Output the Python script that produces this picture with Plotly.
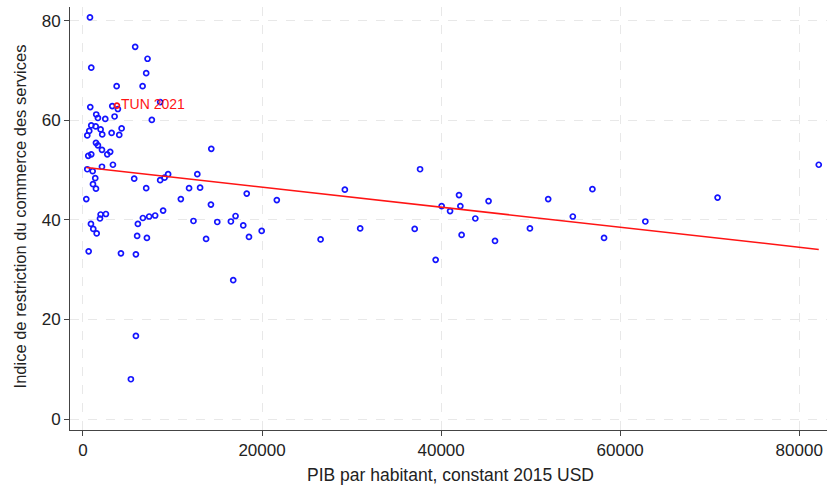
import numpy as np
import plotly.graph_objects as go

# PIB par habitant (constant 2015 USD) and services trade restrictiveness index
gdp = [780, 925, 5830, 7210, 7060, 6660, 3760, 815, 3270, 3900,
       8620, 1480, 1670, 2490, 3530, 7690, 925, 1420, 700, 1970,
       480, 2150, 3200, 4315, 4050, 1450, 1670, 2120, 2710, 3040,
       590, 925, 3345, 2120, 480, 1080, 9510, 9110, 8620, 5720,
       1370, 1115, 1450, 7060, 370, 10930, 11850, 13080, 12770, 18290,
       14330, 14290, 21650, 1970, 2560, 1900, 8950, 8060, 7390, 6690,
       890, 6130, 1150, 1530, 6050, 7140, 635, 4240, 5910, 5910,
       5350, 16780, 19960, 18540, 17900, 17040, 16520, 15000, 13750, 12340,
       26540, 29250, 30960, 37650, 37050, 39390, 40060, 41000, 42000, 42150,
       42290, 43820, 45300, 46020, 49920, 51960, 54710, 56900, 58200, 62810,
       70880, 82180]
stri = [80.7, 70.6, 74.8, 72.4, 69.5, 66.9, 66.9, 62.7, 62.9, 62.3,
        63.7, 61.2, 60.5, 60.3, 60.8, 60.1, 59.0, 58.8, 57.9, 58.2,
        57.0, 57.2, 57.5, 58.4, 57.1, 55.5, 55.0, 54.1, 53.2, 53.7,
        52.9, 53.2, 51.1, 50.7, 50.2, 49.8, 49.2, 48.5, 48.0, 48.3,
        48.4, 47.2, 46.3, 46.4, 44.2, 44.2, 46.4, 46.5, 49.2, 45.3,
        54.3, 43.1, 44.0, 41.1, 41.2, 40.3, 41.9, 40.9, 40.7, 40.4,
        39.2, 39.2, 38.2, 37.3, 36.8, 36.4, 33.7, 33.3, 33.1, 16.7,
        8.0, 27.9, 37.8, 36.6, 38.9, 40.8, 39.7, 39.6, 36.2, 39.8,
        36.1, 46.1, 38.3, 50.2, 38.2, 32.0, 42.8, 41.8, 45.0, 42.8,
        37.0, 40.3, 43.8, 35.8, 38.3, 44.2, 40.7, 46.2, 36.4, 39.7,
        44.5, 51.1]

tun_gdp = [3790]
tun_stri = [63.0]
tun_label = ["TUN 2021"]

x_ticks = [0, 20000, 40000, 60000, 80000]
y_ticks = [0, 20, 40, 60, 80]
x_title = "PIB par habitant, constant 2015 USD"
y_title = "Indice de restriction du commerce des services"

# linear fit over all observations (incl. Tunisia)
all_x = np.array(gdp + tun_gdp, dtype=float)
all_y = np.array(stri + tun_stri, dtype=float)
slope, intercept = np.polyfit(all_x, all_y, 1)
fit_x = np.array([all_x.min(), all_x.max()])
fit_y = intercept + slope * fit_x

FONT = "Liberation Sans, Arial, sans-serif"
BLUE = "#1414ff"
RED = "#ff1414"

fig = go.Figure()
fig.add_trace(go.Scatter(
    x=gdp, y=stri, mode="markers",
    marker=dict(symbol="circle-open", size=5, color=BLUE,
                line=dict(width=1.7, color=BLUE)),
    showlegend=False, hoverinfo="x+y"))
fig.add_trace(go.Scatter(
    x=fit_x, y=fit_y, mode="lines",
    line=dict(color=RED, width=1.5),
    showlegend=False))
fig.add_trace(go.Scatter(
    x=tun_gdp, y=tun_stri, mode="markers+text", text=tun_label,
    textposition="middle right",
    textfont=dict(color=RED, size=14, family=FONT),
    marker=dict(symbol="circle-open", size=5, color=RED,
                line=dict(width=1.7, color=RED)),
    showlegend=False))

tick_font = dict(family=FONT, size=17, color="#222222")
fig.update_layout(
    width=828, height=489,
    margin=dict(l=70, r=1, t=7, b=59),
    paper_bgcolor="white", plot_bgcolor="white",
    font=dict(family=FONT, color="#222222"),
    xaxis=dict(
        range=[-1450, 83100], tickvals=x_ticks, ticktext=[str(v) for v in x_ticks],
        showgrid=True, gridcolor="#e8e8e8", griddash="dash", gridwidth=1,
        zeroline=False, showline=True, linecolor="#444444", linewidth=1,
        ticks="outside", ticklen=5, tickcolor="#444444",
        automargin=False, tickfont=tick_font),
    yaxis=dict(
        range=[-2.2, 82.8], tickvals=y_ticks, ticktext=[str(v) for v in y_ticks],
        showgrid=True, gridcolor="#e8e8e8", griddash="dash", gridwidth=1,
        zeroline=False, showline=True, linecolor="#444444", linewidth=1,
        ticks="outside", ticklen=5, tickcolor="#444444",
        automargin=False, tickfont=tick_font),
    annotations=[
        dict(text=x_title, xref="paper", yref="paper", x=0.503, y=-0.106,
             xanchor="center", yanchor="middle", showarrow=False,
             font=dict(family=FONT, size=17.5, color="#222222")),
        dict(text=y_title, xref="paper", yref="paper", x=-0.066, y=0.505,
             xanchor="center", yanchor="middle", showarrow=False, textangle=-90,
             font=dict(family=FONT, size=16.5, color="#222222")),
    ],
)

fig.write_html(
    "out.html",
    config={"displayModeBar": False, "responsive": False},
    post_script="document.body.style.margin='0';document.body.style.padding='0';"
                "document.documentElement.style.overflow='hidden';",
)
